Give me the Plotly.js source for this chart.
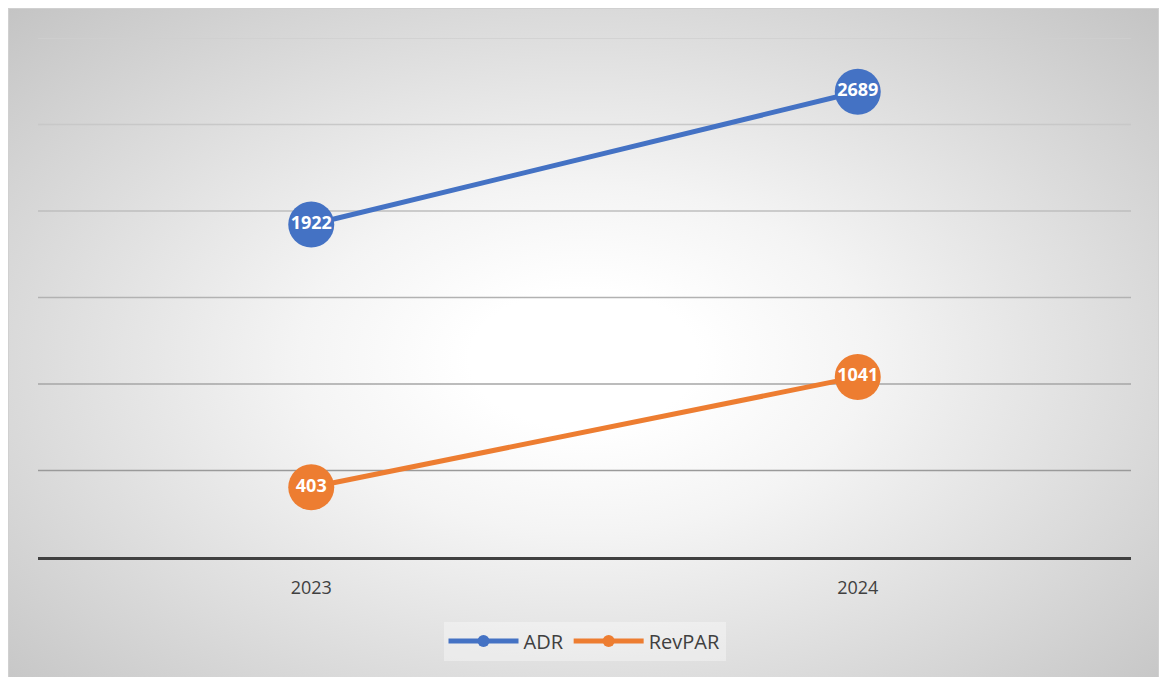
<!DOCTYPE html>
<html>
<head>
<meta charset="utf-8">
<script src="https://cdn.plot.ly/plotly-3.0.1.min.js"></script>
<style>
  html, body { margin: 0; padding: 0; background: #ffffff; }
  #frame {
    position: absolute; left: 8px; top: 8px; width: 1151px; height: 675px;
    border: 1px solid #d0d0d0; box-sizing: border-box;
    background: radial-gradient(ellipse farthest-corner at 50% 52%, #ffffff 0%, #ffffff 14%, #f4f4f4 35%, #c4c4c4 100%);
  }
  #chart { position: absolute; left: 0; top: 0; width: 1162px; height: 677px; }
</style>
</head>
<body>
<div id="frame"></div>
<div id="chart"></div>
<script>
const categories = ["2023", "2024"];
const adrValues = [1922, 2689];
const revparValues = [403, 1041];
const seriesNames = ["ADR", "RevPAR"];
const gridValues = [500, 1000, 1500, 2000, 2500, 3000];
const gridColors = ["#9a9a9a", "#a6a6a6", "#b2b2b2", "#bebebe", "#c8c8c8", "#cfcfcf"];

const blue = "#4472C4";
const orange = "#ED7D31";

function makeTrace(name, values, color) {
  return {
    type: "scatter",
    mode: "lines+markers+text",
    name: name,
    x: categories,
    y: values,
    text: values.map(v => String(v)),
    textposition: "middle center",
    textfont: { family: "Open Sans, Liberation Sans, sans-serif", size: 18, color: "#ffffff", weight: "bold" },
    line: { color: color, width: 5 },
    marker: { color: color, size: 46 },
    cliponaxis: false,
    hoverinfo: "skip"
  };
}

const data = [
  makeTrace(seriesNames[0], adrValues, blue),
  makeTrace(seriesNames[1], revparValues, orange)
];

const gridShapes = gridValues.map((v, i) => ({
  type: "line", layer: "below", xref: "paper", yref: "y",
  x0: 0, x1: 1, y0: v, y1: v,
  line: { color: gridColors[i], width: 1.5 }
}));

const layout = {
  width: 1162,
  height: 677,
  margin: { l: 38, r: 31, t: 38, b: 120 },
  paper_bgcolor: "rgba(0,0,0,0)",
  plot_bgcolor: "rgba(0,0,0,0)",
  showlegend: true,
  font: { family: "Open Sans, Liberation Sans, sans-serif", color: "#404040" },
  shapes: gridShapes,
  xaxis: {
    type: "category",
    range: [-0.5, 1.5],
    showline: true,
    linecolor: "#404040",
    linewidth: 3,
    showgrid: false,
    zeroline: false,
    ticks: "",
    tickfont: { size: 18, color: "#404040" },
    ticklabelstandoff: 12,
    fixedrange: true
  },
  yaxis: {
    range: [0, 3000],
    dtick: 500,
    showgrid: false,
    zeroline: false,
    showticklabels: false,
    ticks: "",
    fixedrange: true
  },
  legend: {
    orientation: "h",
    x: 0.5,
    xanchor: "center",
    y: -0.162,
    yanchor: "middle",
    bgcolor: "rgba(255,255,255,0.35)",
    font: { size: 20, color: "#404040" },
    itemsizing: "constant",
    itemwidth: 70,
    borderwidth: 0
  }
};

Plotly.newPlot("chart", data, layout, { displayModeBar: false, staticPlot: true });
</script>
</body>
</html>
